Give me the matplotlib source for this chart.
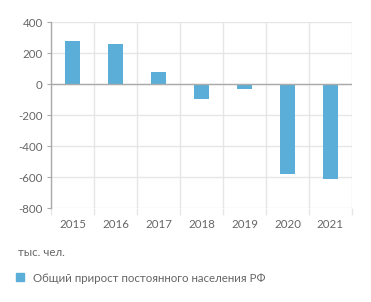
import matplotlib.pyplot as plt
import numpy as np
from matplotlib.lines import Line2D

# Population growth, thousand people
years = ['2015', '2016', '2017', '2018', '2019', '2020', '2021']
growth = [277, 259, 77, -98, -34, -580, -614]
y_ticks = [400, 200, 0, -200, -400, -600, -800]

bar_color = '#5aaed7'
text_color = '#666666'
grid_color = '#e6e6e6'

plt.rcParams['font.family'] = ['Lato', 'DejaVu Sans']

fig = plt.figure(figsize=(3.71, 3.02), dpi=100)
ax = fig.add_axes([0.1375, 0.311, 0.811, 0.616])

x = np.arange(len(years))
ax.bar(x, growth, width=0.35, color=bar_color, zorder=3)

ax.set_xlim(-0.5, len(years) - 0.5)
ax.set_ylim(-800, 400)
ax.set_yticks(y_ticks)
ax.set_yticklabels([str(v) for v in y_ticks])

# category labels in the middle, ticks/grid on boundaries
ax.set_xticks(x)
ax.set_xticklabels(years)
ax.set_xticks(np.arange(-0.5, len(years)), minor=True)
ax.tick_params(axis='x', which='major', length=0, pad=8, labelsize=8.3, labelcolor=text_color)
ax.tick_params(axis='x', which='minor', length=5, color=grid_color, width=1)
ax.tick_params(axis='y', length=3, color='#aaaaaa', labelsize=8.3, labelcolor=text_color, pad=3)

ax.grid(True, axis='y', color=grid_color, linewidth=1, zorder=0)
ax.grid(True, axis='x', which='minor', color=grid_color, linewidth=1, zorder=0)
ax.axhline(0, color='#aaaaaa', linewidth=1, zorder=4)

for s in ['top', 'right', 'bottom']:
    ax.spines[s].set_visible(False)
ax.spines['left'].set_color('#aaaaaa')
ax.spines['left'].set_linewidth(1)

fig.text(18 / 371, 1 - 252 / 302, 'тыс. чел.', fontsize=8.3, color=text_color, va='center')

handle = Line2D([], [], marker='s', linestyle='none', markersize=6,
                markerfacecolor=bar_color, markeredgecolor=bar_color)
fig.legend([handle], ['Общий прирост постоянного населения РФ'],
           loc='center left', bbox_to_anchor=(10 / 371, 1 - 278 / 302),
           frameon=False, fontsize=8.3, labelcolor=text_color,
           handletextpad=0.6, handlelength=1.0, borderaxespad=0)

fig.savefig('out.png', dpi=100)
